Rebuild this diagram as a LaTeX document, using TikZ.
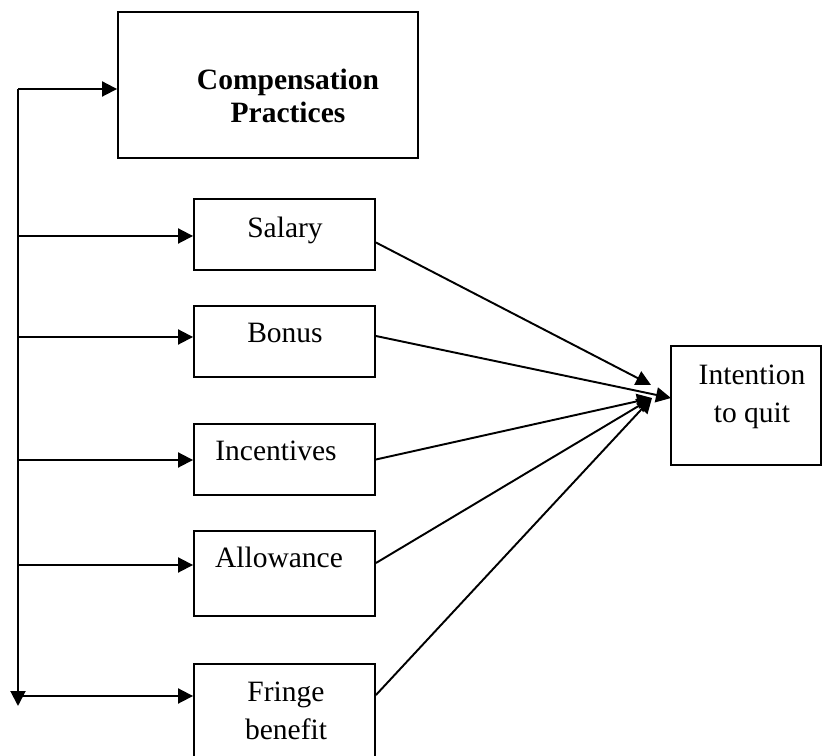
\documentclass[tikz,border=0pt]{standalone}
\usepackage{fontspec}
\setmainfont{Liberation Serif}
\usetikzlibrary{arrows.meta}

\begin{document}
\begin{tikzpicture}[x=0.02cm, y=-0.02cm,
  box/.style={draw, line width=1.1pt, minimum width=3.62cm, inner sep=0pt},
  txt/.style={font=\fontsize{16.8}{22}\selectfont, align=center, inner sep=0pt},
  arr/.style={line width=1.1pt, -{Triangle[length=0.3cm, width=0.3cm]}}]
\useasboundingbox (0,0) rectangle (822,756);
%
\node[box, minimum width=6cm, minimum height=2.92cm] (comp) at (268,85) {};
\node[box, minimum height=1.42cm] (salary) at (284.5,234.5) {};
\node[box, minimum height=1.42cm] (bonus) at (284.5,341.5) {};
\node[box, minimum height=1.42cm] (incent) at (284.5,459.5) {};
\node[box, minimum height=1.70cm] (allow) at (284.5,573.5) {};
\node[box, minimum height=1.92cm] (fringe) at (284.5,712) {};
\node[box, minimum width=3cm, minimum height=2.38cm] (quit) at (746,405.5) {};
%
% base of a two-line node is its last line
\node[txt, font=\fontsize{16.8}{19.3}\selectfont\bfseries, anchor=base] (comp-txt) at (288,123) {Compensation\\Practices};
\node[txt, anchor=base] (salary-txt) at (285,238) {Salary};
\node[txt, anchor=base] (bonus-txt) at (285,343) {Bonus};
\node[txt, anchor=base] (incent-txt) at (276,461) {Incentives};
\node[txt, anchor=base] (allow-txt) at (279,568) {Allowance};
\node[txt, anchor=base] (fringe-txt) at (286,740) {Fringe\\benefit};
\node[txt, anchor=base] (quit-txt) at (752,423) {Intention\\to quit};
%
\coordinate (r0) at (18,89);
\coordinate (r1) at (18,236);
\coordinate (r2) at (18,337);
\coordinate (r3) at (18,460);
\coordinate (r4) at (18,565);
\coordinate (r5) at (18,696);
\coordinate (spine-end) at (18,706);
\draw[arr] (r0) -- (spine-end);
\draw[arr] (r0) -- (r0 -| comp.west);
\draw[arr] (r1) -- (r1 -| salary.west);
\draw[arr] (r2) -- (r2 -| bonus.west);
\draw[arr] (r3) -- (r3 -| incent.west);
\draw[arr] (r4) -- (r4 -| allow.west);
\draw[arr] (r5) -- (r5 -| fringe.west);
%
\coordinate (hub) at (652,398);
\coordinate (hub-top) at (651,385);
\coordinate (hub-in) at (671,398);
\draw[arr] ([yshift=-0.16cm]salary.east) -- (hub-top);
\draw[arr] ([yshift=0.11cm]bonus.east) -- (hub-in);
\draw[arr] (incent.east) -- (hub);
\draw[arr] ([yshift=0.21cm]allow.east) -- (hub);
\draw[arr] ([yshift=0.34cm]fringe.east) -- (hub);
\end{tikzpicture}
\end{document}
